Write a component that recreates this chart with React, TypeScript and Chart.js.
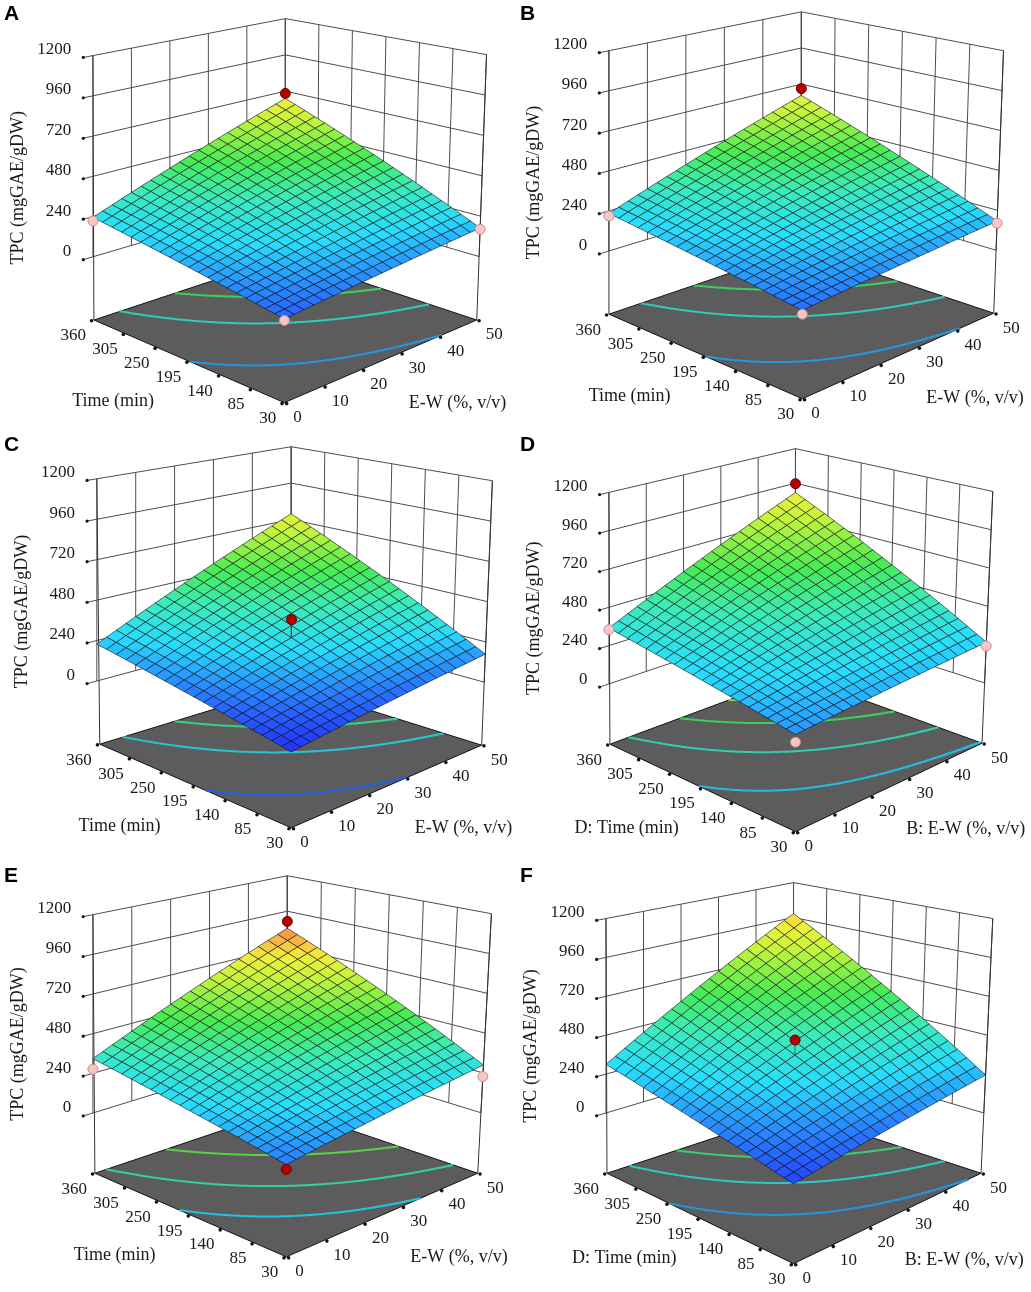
import React, { useEffect, useRef } from "react";
import { Chart, registerables } from "chart.js";

Chart.register(...registerables);

// ---------------- data ----------------
const ewTicks = [0, 10, 20, 30, 40, 50];
const timeTicks = [30, 85, 140, 195, 250, 305, 360];
const tpcTicks = [0, 240, 480, 720, 960, 1200];
const panelLetters = ["A", "B", "C", "D", "E", "F"];
const timeTitles = ["Time (min)", "Time (min)", "Time (min)", "D: Time (min)", "Time (min)", "D: Time (min)"];
const ewTitles = ["E-W (%, v/v)", "E-W (%, v/v)", "E-W (%, v/v)", "B: E-W (%, v/v)", "E-W (%, v/v)", "B: E-W (%, v/v)"];
const tpcTitle = "TPC (mgGAE/gDW)";

// predicted TPC at the four corners of each response surface
const tpcAtEW0Time30 = [70, 97, 27, 168, 127, 65];
const tpcAtEW50Time30 = [170, 175, 167, 255, 288, 234];
const tpcAtEW0Time360 = [235, 225, 219, 350, 329, 300];
const tpcAtEW50Time360 = [672, 645, 758, 895, 845, 987];

// design points: [E-W, time, TPC, above surface (1) / below (0)]
const designA = [[50, 360, 705, 1], [0, 360, 214, 0], [50, 30, 162, 0], [0, 30, 62, 0]];
const designB = [[50, 360, 690, 1], [0, 360, 210, 0], [50, 30, 163, 0], [0, 30, 76, 0]];
const designC = [[25, 195, 400, 1]];
const designD = [[50, 360, 956, 1], [0, 360, 340, 0], [50, 30, 231, 0], [0, 30, 125, 0]];
const designE = [[50, 360, 891, 1], [0, 360, 265, 0], [50, 30, 218, 0], [0, 30, 101, 1]];
const designF = [[25, 195, 490, 1]];
const designPoints = [designA, designB, designC, designD, designE, designF];

// floor contour levels
const contoursA = [152, 295, 420, 550];
const contoursB = [161, 295, 410, 530];
const contoursC = [113, 285, 430, 580];
const contoursD = [263, 405, 555, 700];
const contoursE = [240, 360, 520, 680];
const contoursF = [222, 383, 556, 730];
const contourLevels = [contoursA, contoursB, contoursC, contoursD, contoursE, contoursF];

// ---------------- layout / style ----------------
const EW_MIN = 0, EW_MAX = 50, TIME_MIN = 30, TIME_MAX = 360, TPC_TOP = 1200;
const FLOOR_TPC = -375;
const GRID_N = 20;
const PANEL_W = 515;
const PANEL_H = 430;
const panelOrigins: [number, number][] = [[0, 0], [516, 0], [0, 431], [516, 431], [0, 862], [516, 862]];
const colorMin = [-16, -3, -2, -28, 6, -5];
const colorMax = [844, 827, 973, 1126, 905, 1162];

type P2 = [number, number];
// screen positions of box corners in each panel (layout calibration)
const calibrations: Record<string, P2>[] = [
  { L1200: [89, 51], L0: [89, 258], LF: [90, 323], B1200: [286, 13], R1200: [492, 50], RF: [482, 323], FF: [285, 408] },
  { L1200: [89, 46], L0: [89, 252], LF: [89, 317], B1200: [286, 6], R1200: [493, 46], RF: [483, 316], FF: [287, 404] },
  { L1200: [93, 43], L0: [93, 251], LF: [96, 316], B1200: [292, 10], R1200: [498, 45], RF: [487, 317], FF: [292, 402] },
  { L1200: [89, 57], L0: [89, 254], LF: [90, 316], B1200: [280, 12], R1200: [482, 56], RF: [471, 315], FF: [280, 406] },
  { L1200: [89, 48], L0: [89, 252], LF: [91, 314], B1200: [288, 8], R1200: [497, 47], RF: [483, 314], FF: [287, 400] },
  { L1200: [86, 52], L0: [86, 252], LF: [87, 314], B1200: [278, 15], R1200: [482, 52], RF: [470, 314], FF: [278, 407] },
];

const cmapStops: [number, number[]][] = [
  [0, [30, 30, 255]],
  [0.12, [40, 110, 255]],
  [0.26, [40, 220, 255]],
  [0.4, [60, 235, 185]],
  [0.53, [70, 235, 85]],
  [0.7, [195, 245, 60]],
  [0.8, [240, 240, 60]],
  [0.9, [250, 160, 70]],
  [1, [255, 60, 50]],
];

function cmap(t: number, k = 1): string {
  t = Math.max(0, Math.min(1, t));
  for (let i = 1; i < cmapStops.length; i++) {
    const [t1, c1] = cmapStops[i];
    const [t0, c0] = cmapStops[i - 1];
    if (t <= t1) {
      const f = (t - t0) / (t1 - t0);
      const c = c0.map((v, j) => Math.round((v + (c1[j] - v) * f) * k));
      return `rgb(${c[0]},${c[1]},${c[2]})`;
    }
  }
  return "rgb(255,60,50)";
}

type Anchor = [number, number, number]; // [tpc, x, y]

function makeProjector(cal: Record<string, P2>) {
  const zF = FLOOR_TPC;
  const totL = cal.LF[1] - cal.L1200[1];
  const frac0 = (0 - zF) / (TPC_TOP - zF);
  const L: Anchor[] = [[zF, cal.LF[0], cal.LF[1]], [0, cal.L0[0], cal.L0[1]], [TPC_TOP, cal.L1200[0], cal.L1200[1]]];
  const tR = (cal.L0[1] - cal.L1200[1]) / totL;
  const R: Anchor[] = [
    [zF, cal.RF[0], cal.RF[1]],
    [0, cal.R1200[0] + (cal.RF[0] - cal.R1200[0]) * tR, cal.R1200[1] + (cal.RF[1] - cal.R1200[1]) * tR],
    [TPC_TOP, cal.R1200[0], cal.R1200[1]],
  ];
  const BF = cal.B1200[1] + 0.9 * totL;
  const B: Anchor[] = [
    [zF, cal.B1200[0], BF],
    [0, cal.B1200[0], BF - frac0 * (BF - cal.B1200[1])],
    [TPC_TOP, cal.B1200[0], cal.B1200[1]],
  ];
  const sF = (1.12 * totL) / (TPC_TOP - zF);
  const F: Anchor[] = [
    [zF, cal.FF[0], cal.FF[1]],
    [0, cal.FF[0], cal.FF[1] - (0 - zF) * sF],
    [TPC_TOP, cal.FF[0], cal.FF[1] - (TPC_TOP - zF) * sF],
  ];
  const col = (c: Anchor[], z: number): P2 => {
    const s0 = z < 0 ? c[0] : c[1];
    const s1 = z < 0 ? c[1] : c[2];
    const f = (z - s0[0]) / (s1[0] - s0[0]);
    return [s0[1] + (s1[1] - s0[1]) * f, s0[2] + (s1[2] - s0[2]) * f];
  };
  return (u: number, v: number, z: number): P2 => {
    const f = col(F, z), r = col(R, z), l = col(L, z), b = col(B, z);
    const w00 = (1 - u) * (1 - v), w10 = u * (1 - v), w01 = (1 - u) * v, w11 = u * v;
    return [
      w00 * f[0] + w10 * r[0] + w01 * l[0] + w11 * b[0],
      w00 * f[1] + w10 * r[1] + w01 * l[1] + w11 * b[1],
    ];
  };
}

const uOf = (ew: number) => (ew - EW_MIN) / (EW_MAX - EW_MIN);
const vOf = (time: number) => (time - TIME_MIN) / (TIME_MAX - TIME_MIN);

function buildPanel(i: number) {
  const proj = makeProjector(calibrations[i]);
  const a = tpcAtEW0Time30[i];
  const b = tpcAtEW50Time30[i] - a;
  const c = tpcAtEW0Time360[i] - a;
  const d = tpcAtEW50Time360[i] - tpcAtEW50Time30[i] - tpcAtEW0Time360[i] + a;
  const surf = (u: number, v: number) => a + b * u + c * v + d * u * v;
  const tOf = (z: number) => (z - colorMin[i]) / (colorMax[i] - colorMin[i]);

  const datasets: any[] = [];
  let order = 100000;
  const xy = (pts: P2[]) => pts.map(([x, y]) => ({ x, y }));
  const addLine = (pts: P2[], color: string, width: number) => {
    datasets.push({
      data: xy(pts), borderColor: color, borderWidth: width, pointRadius: 0, showLine: true,
      fill: false, tension: 0, order: order--, clip: false, borderCapStyle: "butt",
    });
  };
  const addPoly = (pts: P2[], fillColor: string, border: string, width: number) => {
    datasets.push({
      data: xy([...pts, pts[0]]), borderColor: border, borderWidth: width, backgroundColor: fillColor,
      pointRadius: 0, showLine: true, fill: "shape", tension: 0, order: order--, clip: false,
      borderJoinStyle: "miter",
    });
  };
  const addDots = (pts: P2[], fillColor: string, border: string, radius: number, bw = 1) => {
    datasets.push({
      data: xy(pts), showLine: false, pointRadius: radius, pointBackgroundColor: fillColor,
      pointBorderColor: border, pointBorderWidth: bw, order: order--, clip: false,
    });
  };

  const wallColor = "#4d4d4d";
  const zF = FLOOR_TPC;
  // back column
  addLine([proj(1, 1, zF), proj(1, 1, TPC_TOP)], "#333", 1);
  // left wall (time = 360)
  for (const z of tpcTicks) addLine([proj(-0.05, 1, z), proj(1, 1, z)], wallColor, 1);
  for (const ew of ewTicks) addLine([proj(uOf(ew), 1, 0), proj(uOf(ew), 1, TPC_TOP)], wallColor, 1);
  // right wall (E-W = 50)
  for (const z of tpcTicks) addLine([proj(1, 0, z), proj(1, 1, z)], wallColor, 1);
  for (const tm of timeTicks) addLine([proj(1, vOf(tm), 0), proj(1, vOf(tm), TPC_TOP)], wallColor, 1);
  // z tick dots
  addDots(tpcTicks.map((z) => proj(-0.05, 1, z)), "#111", "#111", 1.6, 0);
  // floor
  addPoly([proj(0, 0, zF), proj(1, 0, zF), proj(1, 1, zF), proj(0, 1, zF)], "#5c5c5c", "#111", 1);
  // floor contours
  for (const L of contourLevels[i]) {
    const pts: [number, number][] = [];
    const N = 400;
    for (let k = 0; k <= N; k++) {
      const u = k / N;
      const v = (L - a - b * u) / (c + d * u);
      if (v >= 0 && v <= 1) pts.push([u, v]);
    }
    const u0 = (L - a) / b;
    if (u0 >= 0 && u0 <= 1) pts.push([u0, 0]);
    const u1 = (L - a - c) / (b + d);
    if (u1 >= 0 && u1 <= 1) pts.push([u1, 1]);
    pts.sort((p, q) => p[0] - q[0]);
    if (pts.length > 1) addLine(pts.map(([u, v]) => proj(u, v, zF)), cmap(tOf(L), 0.88), 2);
  }
  // floor ticks
  const timeTickPts = timeTicks.map((tm) => proj(-0.012, vOf(tm), zF));
  const ewTickPts = ewTicks.map((ew) => proj(uOf(ew), -0.012, zF));
  addDots([...timeTickPts, ...ewTickPts], "#111", "#111", 1.8, 0);
  // left and right columns
  addLine([proj(0, 1, zF), proj(0, 1, TPC_TOP)], "#333", 1);
  addLine([proj(1, 0, zF), proj(1, 0, TPC_TOP)], "#333", 1);

  // surface cells back to front
  const cells: [number, number][] = [];
  for (let iu = 0; iu < GRID_N; iu++) for (let iv = 0; iv < GRID_N; iv++) cells.push([iu, iv]);
  cells.sort((p, q) => q[0] + q[1] - (p[0] + p[1]));
  for (const [iu, iv] of cells) {
    const u0 = iu / GRID_N, u1 = (iu + 1) / GRID_N, v0 = iv / GRID_N, v1 = (iv + 1) / GRID_N;
    const zc = surf((u0 + u1) / 2, (v0 + v1) / 2);
    addPoly(
      [proj(u0, v0, surf(u0, v0)), proj(u1, v0, surf(u1, v0)), proj(u1, v1, surf(u1, v1)), proj(u0, v1, surf(u0, v1))],
      cmap(tOf(zc)), "rgba(15,15,15,0.85)", 0.7
    );
  }

  // design points with stems
  for (const [ew, tm, tpc] of designPoints[i]) {
    const u = uOf(ew), v = vOf(tm);
    addLine([proj(u, v, tpc), proj(u, v, surf(u, v))], "rgba(70,70,70,0.8)", 1);
  }
  const aboveP = designPoints[i].filter((p) => p[3] === 1).map(([ew, tm, tpc]) => proj(uOf(ew), vOf(tm), tpc));
  const belowP = designPoints[i].filter((p) => p[3] === 0).map(([ew, tm, tpc]) => proj(uOf(ew), vOf(tm), tpc));
  if (belowP.length) addDots(belowP, "#f7c6c6", "#c98a8a", 5, 1);
  if (aboveP.length) addDots(aboveP, "#b30000", "#6b0000", 5, 1);

  return { datasets, proj };
}

function Panel({ index }: { index: number }) {
  const ref = useRef<HTMLCanvasElement | null>(null);
  useEffect(() => {
    if (!ref.current) return;
    const { datasets, proj } = buildPanel(index);
    const labelPlugin = {
      id: "panelLabels",
      afterDatasetsDraw(chart: any) {
        const ctx = chart.ctx as CanvasRenderingContext2D;
        const sx = chart.scales.x, sy = chart.scales.y;
        const px = (p: P2): P2 => [sx.getPixelForValue(p[0]), sy.getPixelForValue(p[1])];
        ctx.save();
        ctx.fillStyle = "#1a1a1a";
        ctx.font = '17px "Liberation Serif", "Times New Roman", serif';
        ctx.textBaseline = "middle";
        ctx.textAlign = "right";
        for (const z of tpcTicks) {
          const [x, y] = px(proj(-0.05, 1, z));
          ctx.fillText(String(z), x - 12, y - 8);
        }
        for (const tm of timeTicks) {
          const [x, y] = px(proj(0, vOf(tm), FLOOR_TPC));
          ctx.fillText(String(tm), x - 8, y + 16);
        }
        ctx.textAlign = "left";
        for (const ew of ewTicks) {
          const [x, y] = px(proj(uOf(ew), 0, FLOOR_TPC));
          ctx.fillText(String(ew), x + 9, y + 15);
        }
        ctx.font = '18px "Liberation Serif", "Times New Roman", serif';
        ctx.textAlign = "center";
        const tm = px(proj(0, 0.5, FLOOR_TPC));
        ctx.fillText(timeTitles[index], tm[0] - 76, tm[1] + 40);
        const em = px(proj(0.5, 0, FLOOR_TPC));
        ctx.fillText(ewTitles[index], em[0] + 77, em[1] + 42);
        const top = px(proj(0, 1, TPC_TOP));
        const bot = px(proj(0, 1, FLOOR_TPC));
        ctx.save();
        ctx.translate(top[0] - 75, (top[1] + bot[1]) / 2);
        ctx.rotate(-Math.PI / 2);
        ctx.fillText(tpcTitle, 0, 0);
        ctx.restore();
        ctx.font = 'bold 21px "Liberation Sans", Arial, sans-serif';
        ctx.textAlign = "left";
        ctx.textBaseline = "alphabetic";
        ctx.fillStyle = "#000";
        ctx.fillText(panelLetters[index], 4, 20);
        ctx.restore();
      },
    };
    const chart = new Chart(ref.current, {
      type: "line",
      data: { datasets },
      options: {
        responsive: false,
        animation: false,
        events: [],
        layout: { padding: 0 },
        plugins: { legend: { display: false }, tooltip: { enabled: false }, title: { display: false } },
        elements: { point: { radius: 0 }, line: { tension: 0 } },
        scales: {
          x: { type: "linear", min: 0, max: PANEL_W, display: false },
          y: { type: "linear", min: 0, max: PANEL_H, reverse: true, display: false },
        },
      } as any,
      plugins: [labelPlugin],
    });
    return () => chart.destroy();
  }, [index]);
  const [left, top] = panelOrigins[index];
  return (
    <canvas
      ref={ref}
      width={PANEL_W}
      height={PANEL_H}
      style={{ position: "absolute", left, top, width: PANEL_W, height: PANEL_H }}
    />
  );
}

export default function App() {
  return (
    <div style={{ position: "absolute", left: 0, top: 0, width: 1031, height: 1292, background: "#fff", overflow: "hidden" }}>
      {panelLetters.map((_, i) => (
        <Panel key={i} index={i} />
      ))}
    </div>
  );
}
